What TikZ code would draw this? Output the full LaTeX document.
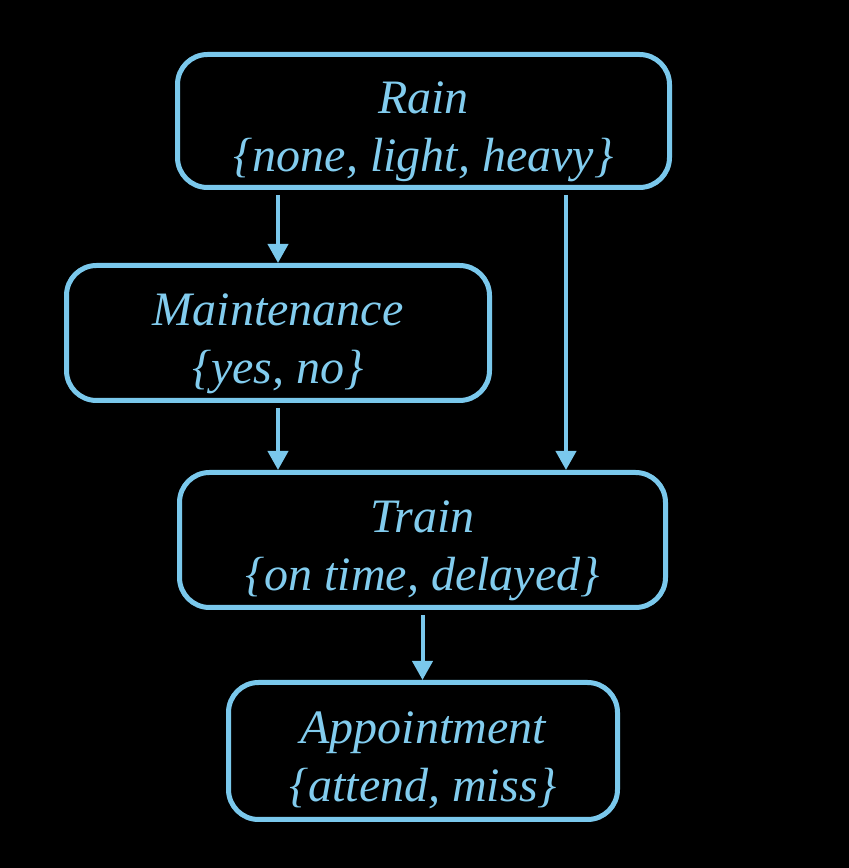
\documentclass[tikz,border=0pt]{standalone}
\usepackage{fontspec}
\setmainfont{Liberation Serif}
\usetikzlibrary{arrows.meta}
\definecolor{lblue}{RGB}{122,200,236}
\definecolor{tblue}{RGB}{130,204,238}
\newcommand{\vlabel}[2]{\raisebox{-16pt}[0pt][0pt]{\begin{tabular}{@{}c@{}}#1\\[0pt]#2\end{tabular}}}
\tikzset{
  varbox/.style={draw=lblue, line width=5pt, rounded corners=30pt, align=center,
    text=tblue, font=\fontsize{48}{58}\selectfont\itshape, inner sep=0pt},
  arr/.style={draw=lblue, line width=4pt, shorten <=5pt,
    -{Triangle[width=20pt,length=19pt]}}
}
\begin{document}
\begin{tikzpicture}
\fill[black] (0,0) rectangle (849pt,868pt);
\useasboundingbox (0,0) rectangle (849pt,868pt);
\node[varbox, minimum width=492pt, minimum height=133pt] (rain) at (423.5pt,747pt) {\vlabel{Rain}{\{none, light, heavy\}}};
\node[varbox, minimum width=423pt, minimum height=135pt] (maint) at (278pt,535pt) {\vlabel{Maintenance}{\{yes, no\}}};
\node[varbox, minimum width=486pt, minimum height=135pt] (train) at (422.5pt,328pt) {\vlabel{Train}{\{on time, delayed\}}};
\node[varbox, minimum width=389pt, minimum height=137pt] (app) at (423pt,117pt) {\vlabel{Appointment}{\{attend, miss\}}};
\draw[arr] (rain.south -| maint.north) -- (maint.north);
\draw[arr] ([xshift=142.5pt]rain.south) -- ([xshift=142.5pt]rain.south |- train.north);
\draw[arr] (maint.south) -- (maint.south |- train.north);
\draw[arr] (train.south) -- (train.south |- app.north);
\end{tikzpicture}
\end{document}
